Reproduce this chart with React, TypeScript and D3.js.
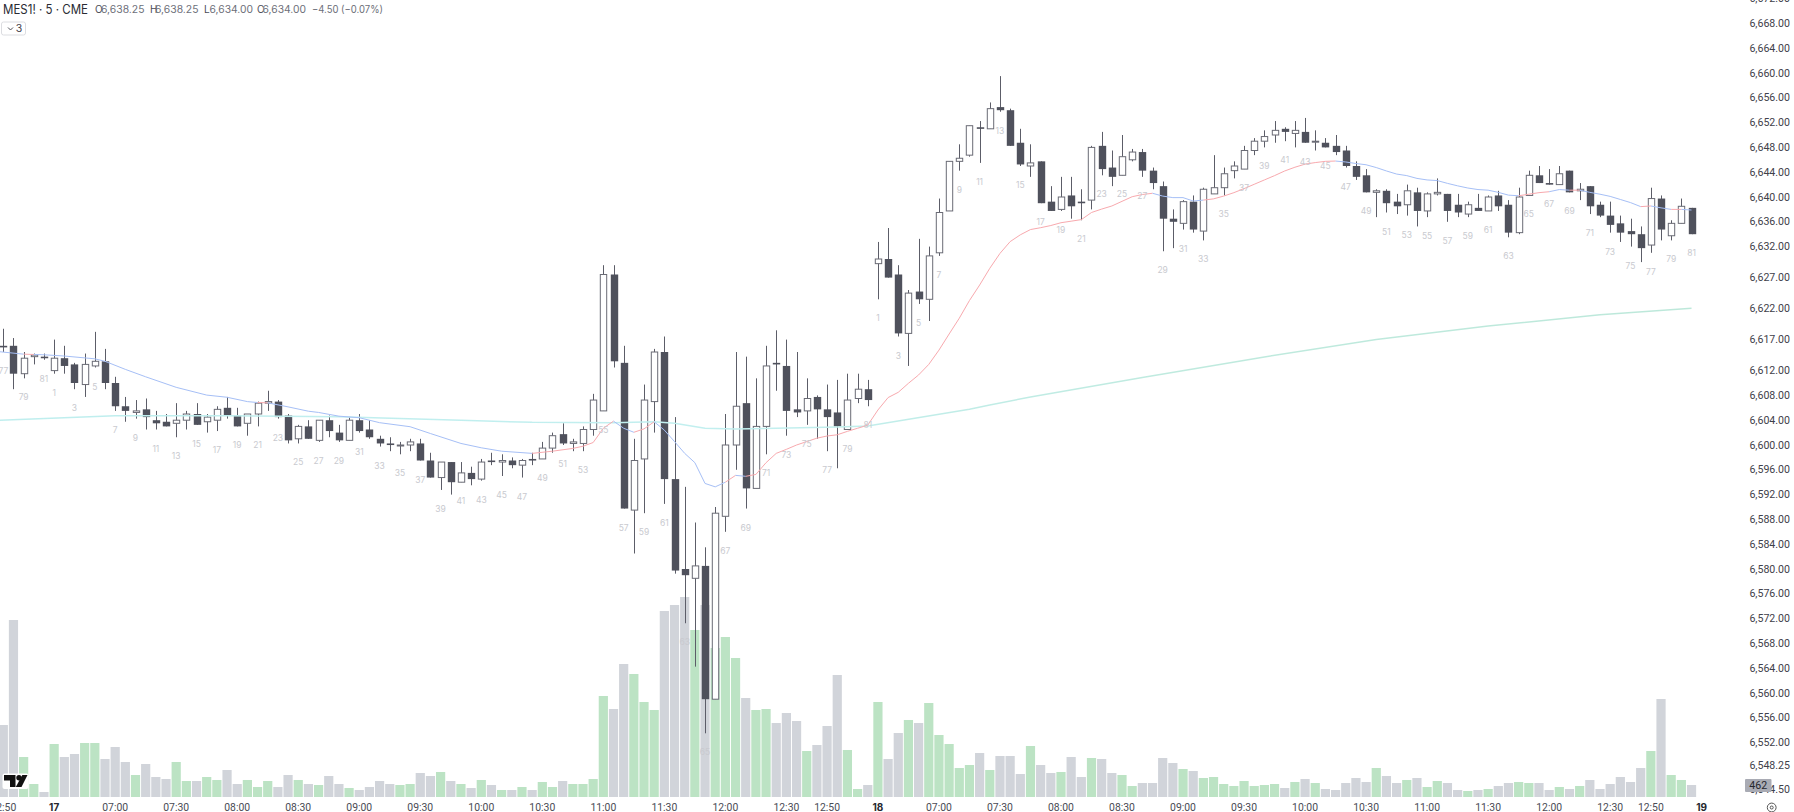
import React from "react";
import * as d3 from "d3";

// [open, high, low, close] for each 5-minute bar
const candlesPrev = [
  [6616, 6618.75, 6615, 6615.75], [6616, 6617.25, 6609, 6611.5], [6611.5, 6615, 6610.75, 6614],
  [6614.25, 6614.75, 6613, 6614.5], [6614.25, 6614.75, 6613.75, 6614],
];
const candles17 = [
  [6612,6617,6611.5,6614],[6614,6616,6611.5,6612.75],[6613,6613.25,6609,6610],[6609.75,6614.75,6607.75,6613],
  [6612.75,6618.25,6612.5,6613.5],[6613.5,6615.5,6609,6610],[6610,6611,6605.5,6606.25],[6606.25,6607.75,6603.75,6605.5],
  [6605.25,6607.25,6604.25,6605.5],[6605.75,6607.5,6602.5,6604.5],[6604,6605.5,6602.5,6603.5],[6603.75,6605,6603,6603],
  [6603.5,6606.75,6601.25,6604],[6604,6605.5,6602.5,6605],[6605,6606.75,6603.25,6603.25],[6603.75,6605,6602,6604.5],
  [6604,6606.25,6602.25,6605.75],[6606,6607.75,6604.25,6604.75],[6604.75,6606,6603,6603],[6603.5,6605,6601.5,6605],
  [6605,6607,6603,6606.75],[6606.75,6608.75,6605.5,6607],[6607,6607.25,6604.25,6604.5],[6604.75,6605,6600.25,6600.75],
  [6601,6603.25,6600.25,6603],[6603,6604,6601,6601],[6600.75,6604,6600.5,6604],[6604,6604.75,6601.25,6602.25],
  [6602,6603.25,6600.5,6600.75],[6600.75,6604.5,6600.75,6604],[6604,6605,6602,6602.25],[6602.5,6604,6601,6601.25],
  [6601,6601.5,6599.75,6600.25],[6600.25,6601.25,6599,6600],[6600,6600.5,6598.5,6600],[6600,6601,6599,6600.5],
  [6600.25,6601,6597.5,6597.5],[6597.5,6598.75,6594.75,6594.75],[6594.75,6597.25,6592.75,6597.25],[6597.25,6597.25,6592,6594],
  [6594,6597.25,6594,6595.5],[6595.5,6596.5,6593.5,6594.5],[6594.5,6597.75,6594.25,6597.25],[6597.5,6598.75,6596.75,6597.25],
  [6597.25,6598.5,6595,6597.5],[6597.5,6598,6596.25,6596.75],[6596.75,6597.75,6594.75,6597.5],[6597.75,6598.75,6596.75,6597.5],
  [6597.75,6600.5,6597.75,6599.5],[6599.5,6602,6598.75,6601.5],[6601.75,6603.5,6600,6600.25],[6600.25,6601,6599,6600.5],
  [6600.25,6603,6599,6602.5],[6602.5,6608.25,6601.5,6607.25],[6605.5,6629,6605.5,6627.5],[6627.5,6629,6612.5,6613.5],
  [6613.25,6616,6589.75,6589.75],[6589.5,6601,6582.5,6597.5],[6597.75,6609.75,6589,6607.25],[6607,6615.5,6602,6615],
  [6615,6617.5,6590.5,6594.5],[6594.5,6604.5,6579.25,6579.75],[6580,6593.25,6571.25,6579],[6578.5,6587.5,6564.25,6580.5],
  [6580.5,6583.5,6553.5,6559],[6559,6590,6559,6589],[6588.5,6605,6586,6600],[6600,6615,6596,6606.25],
  [6606.75,6614.25,6589.75,6593],[6593,6610.75,6593,6603],[6603,6616,6598.5,6612.75],[6613.25,6618.5,6608.75,6613],
  [6612.75,6617,6601.5,6605.5],[6605.75,6615,6604.5,6605.25],[6605.5,6610.75,6603.25,6607.5],[6607.75,6608,6601,6605.75],
  [6605.75,6609.75,6599,6604.5],[6605.25,6610.5,6596.25,6603],[6602.5,6611.5,6602.5,6607.25],[6607.5,6611.5,6606.75,6609],
  [6609,6610.5,6606.25,6607.25],
];
const candles18 = [
  [6629.25,6632.75,6623.5,6630],[6630,6635,6627,6627],[6627.5,6629,6617.5,6618],[6618,6625,6612.75,6624.5],
  [6624.75,6633.25,6622.75,6623.5],[6623.5,6632,6620,6630.5],[6631,6639.75,6630.5,6637.5],[6637.75,6645.75,6637.75,6645.75],
  [6645.75,6648.5,6644.25,6646.25],[6646.75,6651.5,6646.5,6651.5],[6651.25,6652.25,6645.5,6651],[6651,6655.25,6651,6654.25],
  [6654.5,6659.5,6653.75,6654],[6654,6654.25,6648.25,6648.25],[6648.75,6651,6645,6645.25],[6645,6648.5,6643.25,6645.5],
  [6645.75,6645.75,6639,6639],[6639.25,6641.75,6637.75,6637.75],[6638,6643.25,6637.75,6640],[6640.25,6643.25,6636.5,6638.5],
  [6639.25,6641.25,6636.25,6639],[6639.5,6648.25,6638,6648],[6648.25,6650.5,6643.5,6644.5],[6644.75,6647.5,6641.75,6643.25],
  [6643.5,6650,6643.5,6646.5],[6646,6647.75,6645.75,6647.25],[6647.25,6647.75,6643.25,6644.25],[6644.25,6644.75,6641.25,6642.25],
  [6641.75,6642.5,6631.25,6636.5],[6636.5,6638,6631.75,6636],[6635.75,6639.5,6634.75,6639.25],[6639.25,6640.25,6634.25,6634.75],
  [6634.5,6641.5,6633,6641.25],[6640.5,6646.75,6640.5,6641.5],[6641.5,6644.75,6640.25,6643.75],[6644.25,6645.75,6643,6645],
  [6644.5,6648.25,6644.5,6647.5],[6647.5,6649.5,6646.75,6649],[6649,6650.75,6648,6649.75],[6650,6652.25,6648.75,6650.75],
  [6651,6651.25,6649,6650.5],[6650.25,6652.25,6648,6650.75],[6650.5,6652.75,6648.75,6648.75],[6649,6650.75,6647.5,6649],
  [6648.75,6649.5,6648,6648],[6648.25,6650,6646.75,6647.25],[6647.5,6648.25,6644.75,6645],[6645,6645.75,6642.75,6643.25],
  [6643.5,6644.5,6640.75,6640.75],[6640.75,6641.25,6636.75,6641],[6641,6641.25,6637.5,6639],[6639.25,6640.5,6637.25,6638.5],
  [6638.75,6642,6637,6641],[6640.75,6641.5,6635.25,6637.75],[6637.75,6640.75,6636.75,6640.5],[6640.5,6643,6640.25,6640.75],
  [6640.5,6640.5,6636,6637.75],[6638.75,6640.5,6636.75,6637.5],[6637.25,6639.25,6636.75,6638.75],[6638.25,6640.5,6637.75,6637.75],
  [6637.75,6640.25,6637.75,6640],[6640.25,6641,6637.75,6638.5],[6638.75,6639.5,6633.5,6634.25],[6634.25,6641.5,6634,6640],
  [6640.25,6644.25,6640.25,6643.5],[6643.5,6645,6642.25,6642.25],[6642.25,6644.5,6642,6642],[6642,6645,6642,6643.75],
  [6644.25,6644.25,6640.75,6640.75],[6641,6642.25,6639.5,6641.25],[6641.75,6641.75,6637.25,6638.5],[6638.75,6639.25,6636.75,6637],
  [6637,6639.25,6634.25,6635.5],[6635.75,6637,6632.75,6634.25],[6634.5,6636.5,6632,6634],[6634,6635.25,6629.5,6631.75],
  [6632.25,6641.5,6631,6639.75],[6639.75,6640.25,6633,6634.75],[6633.75,6636.25,6633,6635.75],[6635.75,6639.75,6635.75,6638.5],
  [6638.25,6638.25,6634,6634],
];

const volumesPrev = [2772, 6815, 1540, 500, 193];
const volumes17 = [
  2040,1540,1656,2079,2079,1463,1925,1348,847,1271,770,693,1348,616,616,770,655,1040,500,655,
  385,616,385,847,655,500,462,809,500,347,270,385,616,500,462,500,924,809,963,616,
  500,347,655,462,270,270,385,270,578,385,616,500,500,693,3889,3388,5121,4736,3658,3350,
  7161,7392,7700,6430,7392,5737,6160,5352,3812,3350,3388,2849,3234,2926,1771,2002,2734,4697,1810,308,462,
];
const volumes18 = [
  3658,1463,2464,2965,2849,3619,2387,2040,1117,1232,1694,1040,1579,1579,886,1964,1232,924,963,1540,
  770,1502,1463,924,847,424,539,539,1502,1309,1078,1001,732,770,500,424,616,424,462,500,
  347,578,693,539,308,270,539,732,578,1117,809,539,655,732,385,616,539,270,231,270,
  308,424,539,578,539,539,270,385,308,424,655,308,500,770,578,1117,1771,3773,847,655,462,
];

// Fast moving average, read at these bar positions
const fastBars = [
  -0.4,2,3,4,6,9,10,12,14,17,20,22,24,25,26,28,30,31,33,35,37,40,42,45,47,49,52,54,56,57,58,59,60,61,62,63,64,65,66,67,68,69,70,71,72,73,74,75,
  76,77,78,79,80,81,82,83,84,85,86,87,88,89,90,91,92,93,94,95,96,97,98,99,100,101,102,103,104,105,106,107,108,109,110,111,112,113,114,115,116,117,
  118,119,120,121,122,123,124,125,126,127,128,129,130,131,132,133,134,135,136,137,138,139,140,141,142,143,144,145,146,147,148,149,150,151,152,153,
  154,155,156,157,158,159,160,161,162,163,164,165,166,
];
const fastPrices = [
  6615.05,6614.65,6614.6,6614.55,6614.35,6613.9,6613.5,6612.2,6611,6609.3,6608.05,6607.7,6607,6606.85,6606.8,6606.15,6605.45,6605.25,6604.65,6604.4,6603.6,6602.95,6601.85,6600.25,6599.55,6599,6598.65,6599,6599.45,6599.8,6600.4,6602.7,6603.85,6602.7,6602.05,6602.6,6603.75,6602.4,6600.55,6598.65,6597.15,6593.8,6593.25,6594,6595.1,6594.95,6595.25,6597.15,
  6598.65,6599.3,6600,6600.55,6601.1,6601.45,6601.65,6602.2,6602.7,6603.2,6605.65,6607.65,6608.5,6609.95,6611.3,6613,6615.3,6617.9,6620.45,6623.3,6625.8,6628.5,6630.9,6632.8,6633.9,6634.75,6635.05,6635.4,6635.85,6636.1,6636.35,6637.5,6638.05,6638.55,6639.3,6640.05,6640.4,6640.6,6640.15,6639.9,6639.9,6639.35,
  6639.5,6639.7,6640.15,6640.7,6641.35,6642.05,6642.75,6643.45,6644.2,6644.8,6645.3,6645.55,6645.75,6645.8,6645.65,6645.4,6645.2,6644.75,6644.2,6643.7,6643.45,6643,6642.75,6642.65,6642.2,6641.8,6641.45,6641.2,6641.1,6640.75,6640.3,6640.2,6640.45,6640.7,6640.85,6641.2,
  6641.1,6641.1,6640.75,6640.45,6640.1,6639.6,6639.1,6638.45,6638.55,6638.25,6638,6638,6637.9,
];
// Stretches of the fast average drawn in the rising colour
const fastRisingSpans = [[2,3],[25,26],[52,60],[62,64],[71,72],[73,113],[118,131],[149,152],[154,155],[161,162],[164,165]];

const slowBars = [-0.4,11,22,33,45,52,60,64,66,69,72,76,82,85,95,97,101,112,124,135,146,157,166];
const slowPrices = [6604,6604.7,6604.7,6604.55,6604,6603.65,6603.6,6603.75,6603.5,6602.7,6602.6,6602.7,6602.9,6603.05,6605.75,6606.45,6607.75,6610.9,6614.2,6617,6619.2,6621,6622.05];

const priceTicks = [6672,6668,6664,6660,6656,6652,6648,6644,6640,6636,6632,6627,6622,6617,6612,6608,6604,6600,6596,6592,6588,6584,6580,6576,6572,6568,6564,6560,6556,6552,6548.25,6544.5];
const timeBars = [0,5,11,17,23,29,35,41,47,53,59,65,71,77,81,86,92,98,104,110,116,122,128,134,140,146,152,158,162,167];
const timeLabels = ["12:50","17","07:00","07:30","08:00","08:30","09:00","09:30","10:00","10:30","11:00","11:30","12:00","12:30","12:50","18","07:00","07:30","08:00","08:30","09:00","09:30","10:00","10:30","11:00","11:30","12:00","12:30","12:50","19"];
const boldTimes = ["17","18","19"];

const quoteLabels = ["O","H","L","C"];
const quoteValues = ["6,638.25","6,638.25","6,634.00","6,634.00"];
const quoteX = [95,150,204,257];
const quoteValueX = [101,155,209.5,262.5];

const W = 1794, H = 812;
const UI = "Inter, 'Noto Sans', sans-serif";
const AX = "Roboto, Inter, sans-serif";
const DARK = "#4f515c", WICK = "#5c5d68";
const GREEN = "#bce3c4", GREY = "#d1d4da";
const PINK = "#f8a9ae", BLUE = "#a6bff6";

const candles = [...candlesPrev, ...candles17, ...candles18];
const volumes = [...volumesPrev, ...volumes17, ...volumes18];
const barNumbers = [...candlesPrev.map((_, i) => 77 + i), ...candles17.map((_, i) => i + 1), ...candles18.map((_, i) => i + 1)];

const x = d3.scaleLinear().domain([0, 167]).range([3.3, 1701.7]);
const y = d3.scaleLinear().domain([6672, 6544.5]).range([-1.4, 789.1]);
const v = d3.scaleLinear().domain([0, 7700]).range([797, 597]);
const fmt = d3.format(",.2f");

const line = d3.line<[number, number]>().x((d) => x(d[0])).y((d) => y(d[1]));
const fastPts = fastBars.map((b, i) => [b, fastPrices[i]] as [number, number]);
const slowPts = slowBars.map((b, i) => [b, slowPrices[i]] as [number, number]);
const isRising = (a: number, b: number) => fastRisingSpans.some(([s, e]) => a >= s && b <= e);
const BODY = 7.4, VOLW = 9.2;

function crisp(n: number) { return Math.round(n); }

export default function App() {
  return (
    <svg width={W} height={H} viewBox={`0 0 ${W} ${H}`} style={{ position: "absolute", left: 0, top: 0, background: "#fff", display: "block" }}>
      <defs>
        <linearGradient id="slow" gradientUnits="userSpaceOnUse" x1="0" x2="1700" y1="0" y2="0">
          <stop offset="0" stopColor="#bfeeee" />
          <stop offset="0.45" stopColor="#c2efef" />
          <stop offset="0.7" stopColor="#bfeade" />
          <stop offset="1" stopColor="#bde8da" />
        </linearGradient>
        <clipPath id="pane"><rect x="0" y="0" width="1745" height="797" /></clipPath>
      </defs>

      <g clipPath="url(#pane)">
        {volumes.map((vol, i) => {
          const up = candles[i][3] >= candles[i][0];
          return <rect key={i} x={x(i) - VOLW / 2} width={VOLW} y={v(vol)} height={797 - v(vol)} fill={up ? GREEN : GREY} />;
        })}

        {candles.map(([o, h, l, c], i) => {
          const up = c >= o;
          const top = y(Math.max(o, c)), bot = y(Math.min(o, c));
          const cx = crisp(x(i)) + 0.5;
          return (
            <g key={i}>
              <line x1={cx} x2={cx} y1={y(h)} y2={y(l)} stroke={WICK} strokeWidth={1} />
              {up ? (
                <rect x={cx - BODY / 2 + 0.5} y={top} width={BODY - 1} height={Math.max(bot - top, 1)} fill="#fff" stroke="#6a6b75" strokeWidth={1} />
              ) : (
                <rect x={cx - BODY / 2} y={top} width={BODY} height={Math.max(bot - top, 1.6)} fill={DARK} />
              )}
            </g>
          );
        })}

        <path d={line(slowPts) ?? ""} fill="none" stroke="url(#slow)" strokeWidth={1.5} />
        {fastPts.slice(1).map((p, i) => (
          <path key={i} d={line([fastPts[i], p]) ?? ""} fill="none" stroke={isRising(fastPts[i][0], p[0]) ? PINK : BLUE} strokeWidth={1} />
        ))}

        {candles.map(([, , l], i) =>
          barNumbers[i] % 2 === 1 ? (
            <text key={i} x={x(i)} y={y(l) + 19} textAnchor="middle" dominantBaseline="central" fontFamily={UI} fontSize={8.5} fill="#c9cacf">
              {barNumbers[i]}
            </text>
          ) : null
        )}
      </g>

      {/* watermark */}
      <g>
        <rect x={2.5} y={773.5} width={26} height={15.5} fill="#fff" rx={2} />
        <path d="M4 775H15.5V787H10V780.5H4Z" fill="#111" />
        <circle cx={19} cy={777.8} r={2.7} fill="#111" />
        <path d="M22.3 775H27.5L21.5 787H15.8Z" fill="#111" />
      </g>

      {/* price axis */}
      {priceTicks.map((p) => (
        <text key={p} x={1790} y={y(p)} textAnchor="end" dominantBaseline="central" fontFamily={AX} fontSize={10.6} fill="#3f414a">
          {fmt(p)}
        </text>
      ))}
      <rect x={1745} y={779} width={26.5} height={13} rx={1} fill="#a9abb4" />
      <text x={1758.3} y={785.8} textAnchor="middle" dominantBaseline="central" fontFamily={AX} fontSize={10.6} fill="#26272e">462</text>

      {/* time axis */}
      {timeBars.map((b, i) => {
        const bold = boldTimes.includes(timeLabels[i]);
        return (
          <text key={i} x={x(b)} y={807} textAnchor="middle" dominantBaseline="central" fontFamily={bold ? UI : AX} fontWeight={bold ? 700 : 400} fontSize={bold ? 10 : 10.4} fill={bold ? "#26272e" : "#4a4c55"}>
            {timeLabels[i]}
          </text>
        );
      })}
      <circle cx={1771.7} cy={807.5} r={4.4} fill="none" stroke="#555" strokeWidth={1} />
      <circle cx={1771.7} cy={807.5} r={1.5} fill="none" stroke="#555" strokeWidth={1} />

      {/* header */}
      <text x={3} y={9} dominantBaseline="central" fontFamily={UI} fontSize={12.5} fill="#2a2b33" textLength={85} lengthAdjust="spacingAndGlyphs">MES1! · 5 · CME</text>
      {quoteLabels.map((q, i) => (
        <g key={q}>
          <text x={quoteX[i]} y={9} dominantBaseline="central" fontFamily={UI} fontSize={10} fill="#4a4c55">{q}</text>
          <text x={quoteValueX[i]} y={9} dominantBaseline="central" fontFamily={UI} fontSize={10.2} fill="#6d6f79" textLength={43.5} lengthAdjust="spacingAndGlyphs">{quoteValues[i]}</text>
        </g>
      ))}
      <text x={312} y={9} dominantBaseline="central" fontFamily={UI} fontSize={10.2} fill="#6d6f79" textLength={71} lengthAdjust="spacingAndGlyphs">−4.50 (−0.07%)</text>
      <rect x={1.5} y={22} width={24} height={13} rx={2} fill="#fff" stroke="#dcdde1" />
      <path d="M8 27.5L10.5 30L13 27.5" fill="none" stroke="#3f414a" strokeWidth={0.9} />
      <text x={19} y={28.4} textAnchor="middle" dominantBaseline="central" fontFamily={UI} fontSize={10.5} fill="#3f414a">3</text>
    </svg>
  );
}
